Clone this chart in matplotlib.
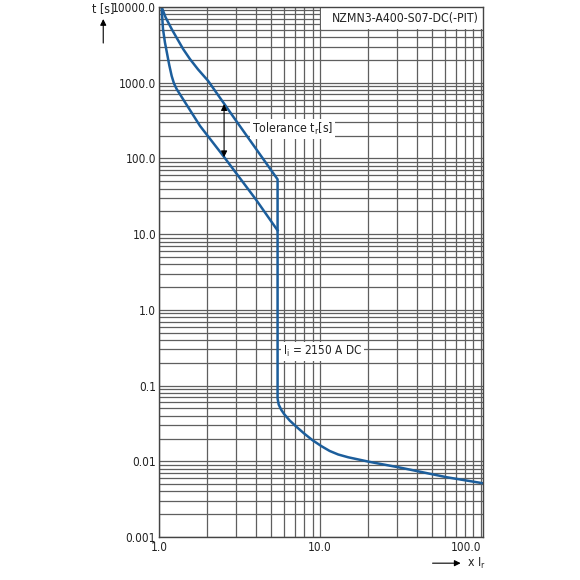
import matplotlib
matplotlib.use("Agg")
import matplotlib.pyplot as plt
from matplotlib import font_manager
from matplotlib.ticker import LogLocator, FixedLocator, NullFormatter
from matplotlib.patches import Rectangle, FancyArrowPatch

# schmale Schrift: DejaVu Sans Condensed falls vorhanden, sonst Roboto
pfad = font_manager.findfont(font_manager.FontProperties(family="DejaVu Sans", stretch="condensed"))
if "Condensed" in pfad:
    plt.rcParams['font.family'] = ['DejaVu Sans']
    plt.rcParams['font.stretch'] = 'condensed'
    schrift = 'DejaVu Sans:stretch=condensed'
else:
    plt.rcParams['font.family'] = ['Roboto', 'DejaVu Sans']
    schrift = 'Roboto'
plt.rcParams['mathtext.fontset'] = 'custom'
plt.rcParams['mathtext.rm'] = schrift

# Kurven (x = Vielfaches von Ir, y = Zeit in s)
obere_x = [1.04, 1.1, 1.2, 1.3, 1.415, 1.56, 1.75, 2.02, 3.0, 4.0, 5.46,
           5.46, 5.55, 5.75, 6.0, 6.5, 7.2, 8.0, 9.0, 10.25, 11.5, 13.0, 15.0, 20.5, 31.5, 61.4, 103]
obere_y = [10000, 7300, 5120, 3800, 2780, 2050, 1500, 1060, 320, 135, 53,
           0.0676, 0.056, 0.048, 0.042, 0.0345, 0.0282, 0.0232, 0.019, 0.0158, 0.0137, 0.0123, 0.0113,
           0.0098, 0.00826, 0.00616, 0.00513]

untere_x = [1.04, 1.05, 1.06, 1.09, 1.12, 1.16, 1.2, 1.24, 1.29, 1.8, 2.51, 3.99, 5.46]
untere_y = [10000, 7000, 5120, 3400, 2520, 1700, 1230, 980, 822, 269, 108, 29, 11.2]

x_ticks = [1, 10, 100]
x_labels = ["1.0", "10.0", "100.0"]
y_ticks = [0.001, 0.01, 0.1, 1, 10, 100, 1000, 10000]
y_labels = ["0.001", "0.01", "0.1", "1.0", "10.0", "100.0", "1000.0", "10000.0"]

blau = "#1c5e9c"
grau = "#5f5f5f"
text_farbe = "#222222"

fig = plt.figure(figsize=(5.8, 5.8), dpi=100)
ax = fig.add_axes([0.274, 0.0741, 0.5586, 0.9138])
ax.set_xscale("log")
ax.set_yscale("log")
ax.set_xlim(1, 103)
ax.set_ylim(0.001, 10000)

ax.xaxis.set_major_locator(FixedLocator(x_ticks))
ax.set_xticklabels(x_labels)
ax.yaxis.set_major_locator(FixedLocator(y_ticks))
ax.set_yticklabels(y_labels)
ax.xaxis.set_minor_locator(LogLocator(base=10, subs=range(2, 10), numticks=20))
ax.yaxis.set_minor_locator(LogLocator(base=10, subs=range(2, 10), numticks=20))
ax.xaxis.set_minor_formatter(NullFormatter())
ax.yaxis.set_minor_formatter(NullFormatter())
ax.tick_params(which="both", length=0, labelsize=8.5, colors=text_farbe)
ax.tick_params(axis="y", pad=2)
ax.tick_params(axis="x", pad=3)
# letzte x-Beschriftung etwas nach links wie im Original
ax.get_xticklabels()[-1].set_horizontalalignment("right")
ax.get_xticklabels()[-1].set_x(104)

ax.set_axisbelow(True)
ax.grid(which="both", color=grau, linewidth=0.9)
for s in ax.spines.values():
    s.set_color("#444444")
    s.set_linewidth(1.0)

# weisser Kasten fuer die Typenbezeichnung
ax.add_patch(Rectangle((10.15, 5100), 103 - 10.15, 10000 - 5100,
                       facecolor="white", edgecolor="none", zorder=1))
ax.text(97, 7050, "NZMN3-A400-S07-DC(-PIT)", ha="right", va="center",
        fontsize=8.8, color=text_farbe, zorder=3)

ax.plot(obere_x, obere_y, color=blau, linewidth=1.8, zorder=2)
ax.plot(untere_x, untere_y, color=blau, linewidth=1.8, zorder=2)

# Toleranzpfeil
ax.annotate("", xy=(2.54, 104), xytext=(2.54, 521),
            arrowprops=dict(arrowstyle="<|-|>", color="black", lw=0.8,
                            mutation_scale=9, shrinkA=0, shrinkB=0), zorder=3)
ax.text(3.78, 243, r"Tolerance t$_\mathregular{r}$[s]", ha="left", va="center",
        fontsize=8.8, color=text_farbe, zorder=3,
        bbox=dict(facecolor="white", edgecolor="none", pad=1.5))
ax.text(5.9, 0.28, r"I$_\mathregular{i}$ = 2150 A DC", ha="left", va="center",
        fontsize=8.5, color=text_farbe, zorder=3,
        bbox=dict(facecolor="white", edgecolor="none", pad=1.5))

# Achsenbeschriftungen mit Pfeilen
fig.text(0.158, 0.986, "t [s]", ha="left", va="center", fontsize=8.8, color=text_farbe)
fig.add_artist(FancyArrowPatch((0.178, 0.921), (0.178, 0.972),
               transform=fig.transFigure, arrowstyle="-|>", mutation_scale=9,
               color="black", lw=0.8))
fig.text(0.806, 0.029, r"x I$_\mathregular{r}$", ha="left", va="center",
         fontsize=8.8, color=text_farbe)
fig.add_artist(FancyArrowPatch((0.741, 0.029), (0.799, 0.029),
               transform=fig.transFigure, arrowstyle="-|>", mutation_scale=9,
               color="black", lw=0.8))

fig.savefig("out.png", dpi=100)
